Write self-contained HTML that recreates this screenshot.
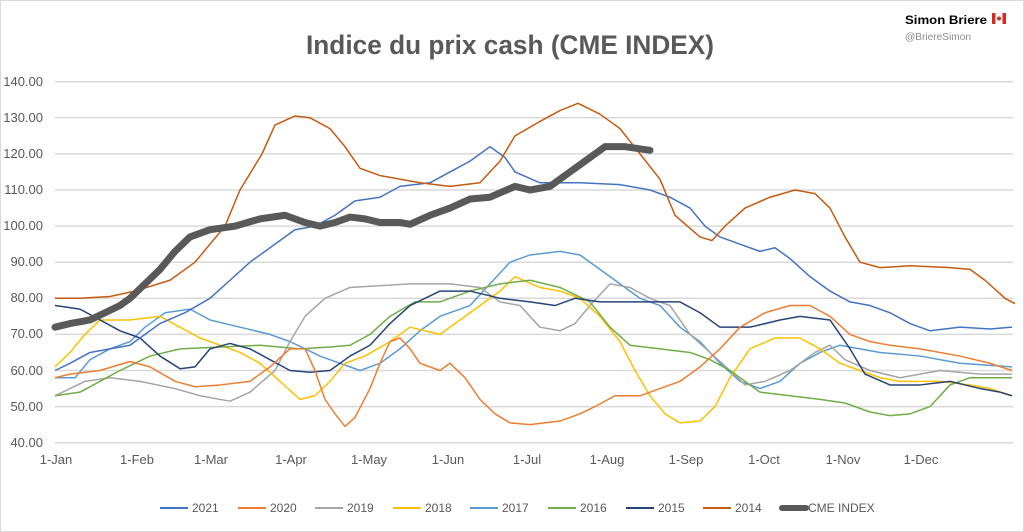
<!DOCTYPE html>
<html><head><meta charset="utf-8"><style>
html,body{margin:0;padding:0;background:#fff;}
svg{display:block;font-family:"Liberation Sans",sans-serif;}
</style></head><body>
<svg width="1024" height="532" viewBox="0 0 1024 532" xmlns="http://www.w3.org/2000/svg">
<rect x="0.5" y="0.5" width="1023" height="531" fill="#fff" stroke="#d9d9d9"/>
<text x="510" y="54" text-anchor="middle" font-size="27" font-weight="bold" fill="#595959" textLength="408" lengthAdjust="spacingAndGlyphs">Indice du prix cash (CME INDEX)</text>
<text x="905" y="24" font-size="12" font-weight="bold" fill="#000" textLength="82" lengthAdjust="spacingAndGlyphs">Simon Briere</text>
<rect x="992" y="13" width="14" height="11" fill="#fff" stroke="#d52b1e" stroke-width="0"/>
<rect x="992" y="13" width="3.5" height="11" fill="#d52b1e"/><rect x="1002.5" y="13" width="3.5" height="11" fill="#d52b1e"/>
<circle cx="999" cy="18.5" r="2" fill="#d52b1e"/>
<text x="905" y="40" font-size="10" fill="#8c8c8c" textLength="66" lengthAdjust="spacingAndGlyphs">@BriereSimon</text>
<g stroke="#d9d9d9" stroke-width="1.5">
<line x1="55" x2="1013" y1="81.7" y2="81.7"/><line x1="55" x2="1013" y1="117.8" y2="117.8"/><line x1="55" x2="1013" y1="153.9" y2="153.9"/><line x1="55" x2="1013" y1="190" y2="190"/><line x1="55" x2="1013" y1="226.1" y2="226.1"/><line x1="55" x2="1013" y1="262.2" y2="262.2"/><line x1="55" x2="1013" y1="298.3" y2="298.3"/><line x1="55" x2="1013" y1="334.4" y2="334.4"/><line x1="55" x2="1013" y1="370.5" y2="370.5"/><line x1="55" x2="1013" y1="406.6" y2="406.6"/><line x1="55" x2="1013" y1="442.7" y2="442.7"/>
</g>
<g font-size="13" fill="#595959" text-anchor="end">
<text x="43" y="86">140.00</text><text x="43" y="122">130.00</text><text x="43" y="158">120.00</text><text x="43" y="194">110.00</text><text x="43" y="230">100.00</text><text x="43" y="266">90.00</text><text x="43" y="302">80.00</text><text x="43" y="338">70.00</text><text x="43" y="375">60.00</text><text x="43" y="411">50.00</text><text x="43" y="447">40.00</text>
</g>
<g font-size="13" fill="#595959" text-anchor="middle">
<text x="56" y="464">1-Jan</text><text x="137" y="464">1-Feb</text><text x="211" y="464">1-Mar</text><text x="291" y="464">1-Apr</text><text x="369" y="464">1-May</text><text x="448" y="464">1-Jun</text><text x="527" y="464">1-Jul</text><text x="607" y="464">1-Aug</text><text x="686" y="464">1-Sep</text><text x="764" y="464">1-Oct</text><text x="843" y="464">1-Nov</text><text x="921" y="464">1-Dec</text>
</g>
<g transform="matrix(1 0 0 -3.61 0 587.1)" fill="none" stroke-linejoin="round">
<polyline vector-effect="non-scaling-stroke" stroke="#5B9BD5" stroke-width="1.5" points="55,58 75,58 90,63 110,66 130,68 145,72 165,76 190,77 210,74 240,72 270,70 290,68 305,66 320,64 340,62 360,60 380,62 400,66 420,71 440,75 470,78 490,84 510,90 530,92 560,93 580,92 600,88 620,84 640,80 660,78 680,72 700,68 720,62 740,57 760,55 780,57 800,62 820,65 840,67 860,66 880,65 920,64 960,62 1012,61"/>
<polyline vector-effect="non-scaling-stroke" stroke="#A5A5A5" stroke-width="1.5" points="55,53 70,55 85,57 110,58 140,57 175,55 200,53 230,51.5 250,54 275,60 290,68 305,75 325,80 350,83 380,83.5 410,84 450,84 480,83 500,79 520,78 540,72 560,71 575,73 590,78 610,84 630,83 650,80 670,78 690,70 710,65 730,60 745,56 765,57 790,60 815,65 830,67 845,63 870,60 900,58 940,60 980,59 1012,59"/>
<polyline vector-effect="non-scaling-stroke" stroke="#FFC000" stroke-width="1.5" points="55,61 70,65 85,70 100,74 130,74 160,75 180,72 200,69 220,67 240,65 260,62 280,57 300,52 315,53 330,57 345,62 365,64 390,68 410,72 440,70 470,76 500,82 515,86 540,83 560,82 580,80 600,75 620,68 635,60 650,53 665,48 680,45.5 700,46 715,50 730,58 750,66 775,69 800,69 820,66 840,62 860,60 880,58 900,57 940,57 970,56 990,55 1012,53"/>
<polyline vector-effect="non-scaling-stroke" stroke="#70AD47" stroke-width="1.5" points="55,53 80,54 100,57 120,60 150,64 180,66 220,66.5 260,67 300,66 330,66.5 350,67 370,70 390,75 415,79 440,79 470,82 500,84 530,85 560,83 590,79 610,72 630,67 660,66 690,65 710,63 730,60 760,54 790,53 820,52 845,51 870,48.5 890,47.5 910,48 930,50 950,56 970,58 1012,58"/>
<polyline vector-effect="non-scaling-stroke" stroke="#264478" stroke-width="1.5" points="55,78 80,77 100,74 120,71 140,69 160,64 180,60.5 195,61 210,66 230,67.5 250,66 270,63 290,60 310,59.5 330,60 350,64 370,67 390,73 410,78 440,82 470,82 500,80 530,79 555,78 575,80 600,79 640,79 680,79 700,76 720,72 750,72 780,74 800,75 830,74 850,66 865,59 890,56 920,56 950,57 980,55 1000,54 1012,53"/>
<polyline vector-effect="non-scaling-stroke" stroke="#ED7D31" stroke-width="1.5" points="55,58 70,59 100,60 130,62.5 150,61 175,57 195,55.5 220,56 250,57 270,61 290,66 305,66 315,60 325,52 335,48 345,44.5 355,47 370,55 380,62 390,68 400,69 410,66 420,62 440,60 450,62 465,58 480,52 495,48 510,45.5 530,45 560,46 580,48 595,50 615,53 640,53 660,55 680,57 700,61 720,66 740,72 765,76 790,78 810,78 830,75 850,70 870,68 890,67 920,66 960,64 990,62 1012,60"/>
<polyline vector-effect="non-scaling-stroke" stroke="#4472C4" stroke-width="1.5" points="55,60 70,62 90,65 110,66 130,67 145,70 160,73 185,76 210,80 230,85 250,90 275,95 295,99 315,100 335,103 355,107 380,108 400,111 430,112 450,115 470,118 490,122 505,119 515,115 540,112 580,112 620,111.5 650,110 670,108 690,105 705,100 720,97 740,95 760,93 775,94 790,91 810,86 830,82 850,79 870,78 890,76 910,73 930,71 960,72 990,71.5 1012,72"/>
<polyline vector-effect="non-scaling-stroke" stroke="#C55A11" stroke-width="1.5" points="55,80 80,80 110,80.5 135,82 170,85 195,90 225,100 240,110 262,120 275,128 295,130.5 310,130 330,127 345,122 360,116 380,114 420,112 450,111 480,112 500,118 515,125 540,129 560,132 578,134 600,131 620,127 640,120 660,113 675,103 700,97 712,96 725,100 745,105 770,108 795,110 815,109 830,105 845,97 860,90 880,88.5 910,89 950,88.5 970,88 985,85 1005,80 1015,78.5"/>
<polyline vector-effect="non-scaling-stroke" stroke="#595959" stroke-width="7" stroke-linecap="round" points="55,72 70,73 90,74 105,76 120,78 130,80 145,84 160,88 175,93 190,97 210,99 235,100 260,102 285,103 305,101 320,100 335,101 350,102.5 365,102 380,101 400,101 410,100.5 430,103 450,105 470,107.5 490,108 515,111 530,110 550,111 570,115 585,118 605,122 625,122 650,121"/>
</g>
<g font-size="12" fill="#595959">
<line x1="160" x2="188" y1="508" y2="508" stroke="#4472C4" stroke-width="2"/><text x="192" y="512">2021</text>
<line x1="238" x2="266" y1="508" y2="508" stroke="#ED7D31" stroke-width="2"/><text x="270" y="512">2020</text>
<line x1="315" x2="343" y1="508" y2="508" stroke="#A5A5A5" stroke-width="2"/><text x="347" y="512">2019</text>
<line x1="393" x2="421" y1="508" y2="508" stroke="#FFC000" stroke-width="2"/><text x="425" y="512">2018</text>
<line x1="470" x2="498" y1="508" y2="508" stroke="#5B9BD5" stroke-width="2"/><text x="502" y="512">2017</text>
<line x1="548" x2="576" y1="508" y2="508" stroke="#70AD47" stroke-width="2"/><text x="580" y="512">2016</text>
<line x1="626" x2="654" y1="508" y2="508" stroke="#264478" stroke-width="2"/><text x="658" y="512">2015</text>
<line x1="703" x2="731" y1="508" y2="508" stroke="#C55A11" stroke-width="2"/><text x="735" y="512">2014</text>
<line x1="782" x2="806" y1="508" y2="508" stroke="#595959" stroke-width="6" stroke-linecap="round"/><text x="808" y="512">CME INDEX</text>
</g>
</svg>
</body></html>
